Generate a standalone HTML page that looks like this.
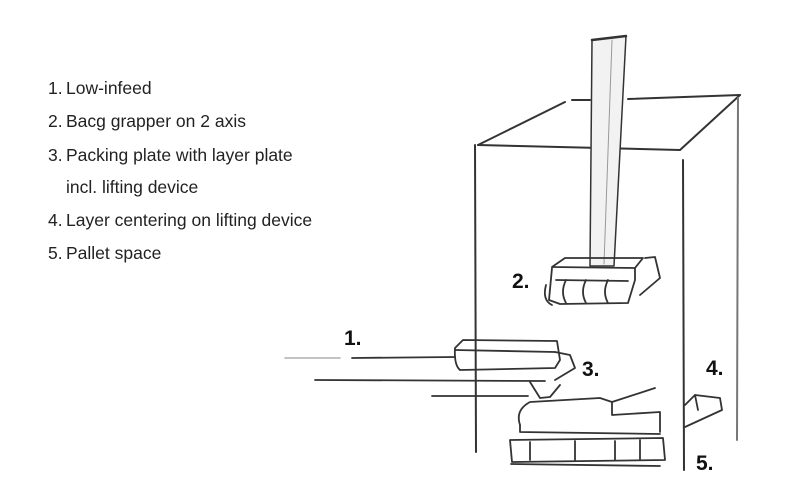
<!DOCTYPE html>
<html><head><meta charset="utf-8"><style>
html,body{margin:0;padding:0;background:#fff;}
body{width:800px;height:500px;position:relative;overflow:hidden;font-family:"Liberation Sans",sans-serif;}
.l{position:absolute;font-size:17.5px;color:#222;white-space:nowrap;}
.n{position:absolute;left:48px;}
.t{position:absolute;left:66px;}
.b{position:absolute;font-weight:bold;font-size:21px;color:#111;}
svg{position:absolute;left:0;top:0;}
</style></head><body>
<svg width="800" height="500" viewBox="0 0 800 500" fill="none" stroke="#333" stroke-linecap="round" stroke-linejoin="round">
<g stroke-width="2">
<path d="M478 145 L565 102"/>
<path d="M572 100 L590 100 M628 99 L740 95"/>
<path d="M478 145 L680 150 L740 95"/>
<path d="M475 145 L476 452"/>
<path d="M683 160 L684 470"/>
<path d="M738 98 L737 440" stroke="#777"/>
</g>
<!-- column -->
<path d="M592 40 L626 36 L614 266 L590 266 Z" stroke-width="1.5" fill="#f2f2f2"/>
<path d="M592 40 L626 36" stroke-width="2.5"/>
<path d="M612 40 L604 264" stroke="#999" stroke-width="1"/>
<!-- gripper -->
<g stroke-width="1.8">
<path d="M552 267 L565 258 L643 258 L635 268 L552 267 Z"/>
<path d="M645 258 L655 257 L660 278 L640 295"/>
<path d="M552 268 L549 300 L560 304 L628 303 L635 280 L635 268"/>
<path d="M546 285 Q542 300 552 305"/>
<path d="M566 280 Q560 292 566 303"/>
<path d="M586 280 Q580 292 586 303"/>
<path d="M608 280 Q602 292 608 303"/>
<path d="M556 280 L628 281"/>
</g>
<!-- infeed -->
<g stroke-width="1.8">
<path d="M285 358 L340 358" stroke="#bbb"/>
<path d="M352 358 L455 357"/>
<path d="M315 380 L545 381"/>
<path d="M432 396 L528 396"/>
<path d="M455 348 L463 340 L557 341 L560 360 L555 368 L460 370 Q454 365 455 348 Z"/>
<path d="M455 350 L555 352"/>
<path d="M555 352 L570 355 L575 368 L555 380"/>
<path d="M530 382 L540 398 L550 397 L560 385"/>
</g>
<!-- layer + pallet -->
<g stroke-width="1.8">
<path d="M520 425 Q515 410 530 402 L600 398 L612 402 L655 388"/>
<path d="M612 402 L612 415 L660 412 L660 432"/>
<path d="M520 425 L520 432 L660 434"/>
<path d="M510 440 L663 438 L665 460 L512 462 Z"/>
<path d="M511 464 L660 466"/>
<path d="M530 442 L530 460 M575 441 L575 460 M615 441 L615 460 M640 440 L640 460"/>
<path d="M685 405 L695 395 L720 398 L722 410 L685 427" />
<path d="M695 395 L698 410"/>
</g>
</svg>
<div class="l" style="top:78px"><span class="n">1.</span><span class="t">Low-infeed</span></div>
<div class="l" style="top:111px"><span class="n">2.</span><span class="t">Bacg grapper on 2 axis</span></div>
<div class="l" style="top:145px"><span class="n">3.</span><span class="t">Packing plate with layer plate</span></div>
<div class="l" style="top:177px"><span class="t">incl. lifting device</span></div>
<div class="l" style="top:210px"><span class="n">4.</span><span class="t">Layer centering on lifting device</span></div>
<div class="l" style="top:243px"><span class="n">5.</span><span class="t">Pallet space</span></div>
<div class="b" style="left:344px;top:327px">1.</div>
<div class="b" style="left:512px;top:270px">2.</div>
<div class="b" style="left:582px;top:358px">3.</div>
<div class="b" style="left:706px;top:357px">4.</div>
<div class="b" style="left:696px;top:452px">5.</div>
</body></html>
